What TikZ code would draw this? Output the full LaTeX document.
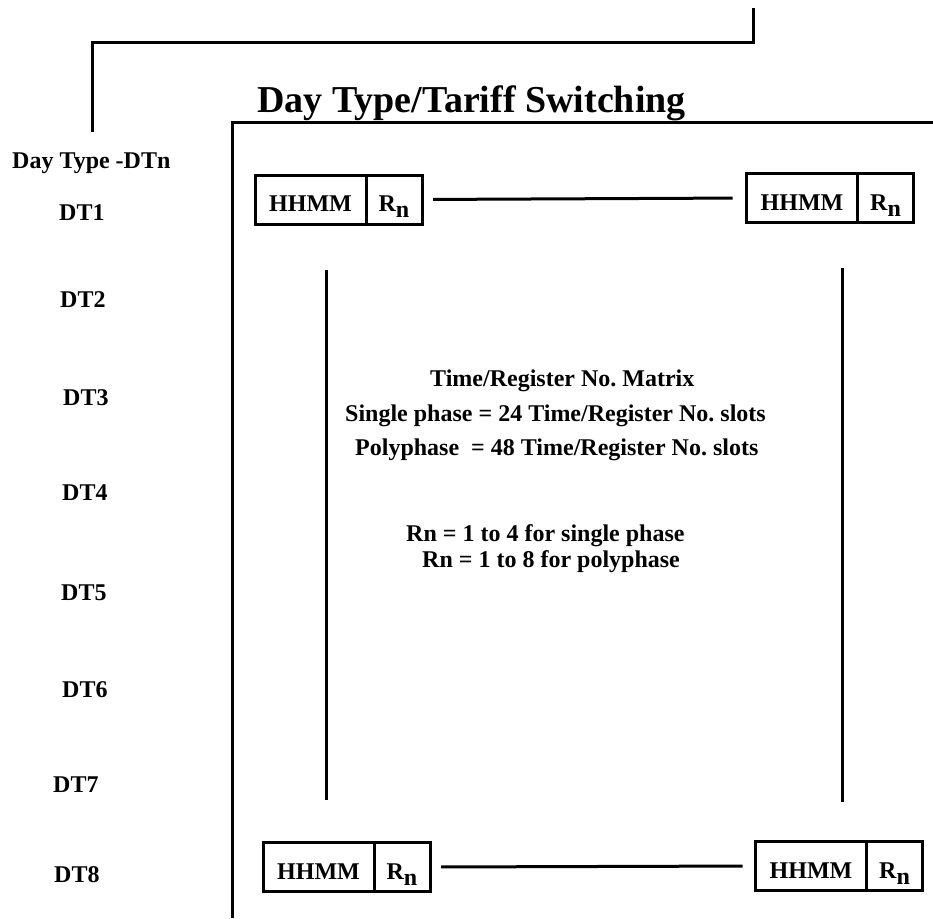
\documentclass[tikz,border=0pt]{standalone}
\usepackage{fontspec}
\setmainfont{Liberation Serif}
\frenchspacing
\usetikzlibrary{positioning}
\tikzstyle{hhmmbox} = [rectangle, draw=black, line width=3pt, outer sep=0pt, inner sep=2pt, minimum width=111pt, minimum height=49pt, text height=30pt, text depth=6pt, font=\bfseries\fontsize{24}{28}\selectfont]
\tikzstyle{regbox} = [rectangle, draw=black, line width=3pt, outer sep=0pt, inner sep=2pt, minimum width=56pt, minimum height=49pt, text height=30pt, text depth=6pt, font=\bfseries\fontsize{24}{28}\selectfont]
\tikzstyle{dtlabel} = [anchor=base west, inner sep=0pt, font=\bfseries\fontsize{24}{28}\selectfont]
\tikzstyle{wire} = [line width=3pt]
\newcommand{\regn}{R\raisebox{-6pt}{n}}

\begin{document}
\begin{tikzpicture}[x=1pt, y=-1pt]
            \useasboundingbox (0,0) rectangle (933,918);

            % Title and frame
            \node(title) [dtlabel, font=\bfseries\fontsize{38}{44}\selectfont] at (257,112) {Day Type/Tariff Switching};
            \draw[wire] (933,122) -- (232,122) -- (232,918);

            % Link from above
            \coordinate(ltop) at (753,8);
            \coordinate(lbend) at (753,42);
            \coordinate(lleft) at (92,42);
            \coordinate(lend) at (92,132);
            \draw[wire] (ltop) -- (lbend) -- (lleft) -- (lend);

            % Day type labels
            \node(daytype) [dtlabel] at (12,168) {Day Type -DTn};
            \node(dt1) [dtlabel] at (59,220) {DT1};
            \node(dt2) [dtlabel] at (60,307) {DT2};
            \node(dt3) [dtlabel] at (63,405) {DT3};
            \node(dt4) [dtlabel] at (62,500) {DT4};
            \node(dt5) [dtlabel] at (61,600) {DT5};
            \node(dt6) [dtlabel] at (62,697) {DT6};
            \node(dt7) [dtlabel] at (53,792) {DT7};
            \node(dt8) [dtlabel] at (54,882) {DT8};

            % Top slots
            \node(tlhhmm) [hhmmbox] at (310.5,199.5) {HHMM};
            \node(tlreg) [regbox, right=0pt of tlhhmm] {\regn};
            \node(trhhmm) [hhmmbox] at (802,198) {HHMM};
            \node(trreg) [regbox, right=0pt of trhhmm] {\regn};

            % Bottom slots
            \node(blhhmm) [hhmmbox] at (318.5,867) {HHMM};
            \node(blreg) [regbox, right=0pt of blhhmm] {\regn};
            \node(brhhmm) [hhmmbox] at (811,866) {HHMM};
            \node(brreg) [regbox, right=0pt of brhhmm] {\regn};

            % Draw Lines
            \draw[wire, shorten <=11pt, shorten >=14pt] (tlreg.east) -- (trhhmm.west);
            \draw[wire, shorten <=11pt, shorten >=13pt] (blreg.east) -- (brhhmm.west);
            \coordinate(vlt) at (326,270);
            \coordinate(vlb) at (326,800);
            \coordinate(vrt) at (842,268);
            \coordinate(vrb) at (842,802);
            \draw[wire] (vlt) -- (vlb);
            \draw[wire] (vrt) -- (vrb);

            % Matrix notes
            \node(matrix) [dtlabel] at (430,386) {Time/Register No. Matrix};
            \node(single) [dtlabel] at (345,421) {Single phase = 24 Time/Register No. slots};
            \node(poly) [dtlabel] at (355,455) {Polyphase\ \ = 48 Time/Register No. slots};
            \node(rnsingle) [dtlabel] at (406,541) {Rn = 1 to 4 for single phase};
            \node(rnpoly) [dtlabel] at (422,567) {Rn = 1 to 8 for polyphase};
\end{tikzpicture}
\end{document}
